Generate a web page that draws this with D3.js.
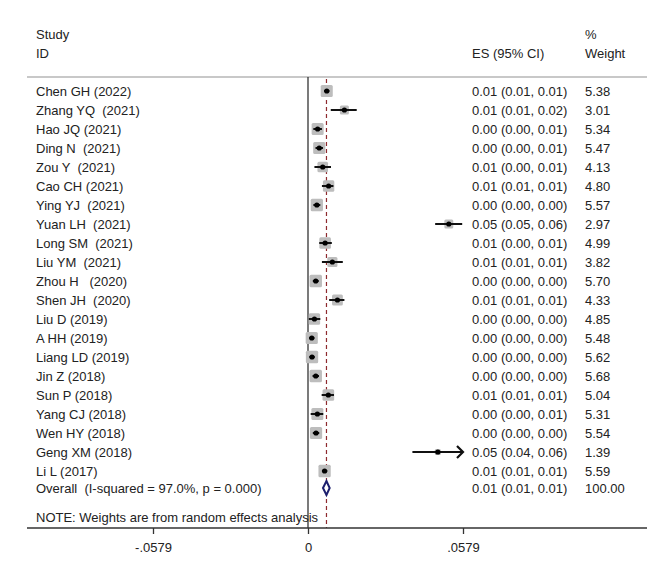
<!DOCTYPE html>
<html>
<head>
<meta charset="utf-8">
<script src="https://cdn.jsdelivr.net/npm/d3@7"></script>
<style>
  body { margin: 0; background: #fff; }
  text { font-family: "Liberation Sans", Arial, sans-serif; font-size: 13px; fill: #222; white-space: pre; }
</style>
</head>
<body>
<div id="chart"></div>
<script>
const width = 669;
const height = 583;

// studies as printed, top to bottom
const studies = [
    'Chen GH (2022)', 'Zhang YQ  (2021)', 'Hao JQ (2021)', 'Ding N  (2021)', 'Zou Y  (2021)',
    'Cao CH (2021)', 'Ying YJ  (2021)', 'Yuan LH  (2021)', 'Long SM  (2021)', 'Liu YM  (2021)',
    'Zhou H   (2020)', 'Shen JH  (2020)', 'Liu D (2019)', 'A HH (2019)', 'Liang LD (2019)',
    'Jin Z (2018)', 'Sun P (2018)', 'Yang CJ (2018)', 'Wen HY (2018)', 'Geng XM (2018)', 'Li L (2017)'
];
const es = [0.0070, 0.0136, 0.0036, 0.0042, 0.0055, 0.0077, 0.0033, 0.0526, 0.0064, 0.0091,
    0.0029, 0.0110, 0.0024, 0.0014, 0.0015, 0.0029, 0.0076, 0.0035, 0.0030, 0.0485, 0.0062];
const lower = [0.0060, 0.0085, 0.0020, 0.0028, 0.0024, 0.0052, 0.0020, 0.0475, 0.0042, 0.0052,
    0.0018, 0.0079, 0.0003, 0.0004, 0.0005, 0.0017, 0.0051, 0.0010, 0.0018, 0.0390, 0.0052];
const upper = [0.0080, 0.0182, 0.0052, 0.0056, 0.0086, 0.0095, 0.0046, 0.0576, 0.0089, 0.0130,
    0.0040, 0.0136, 0.0046, 0.0024, 0.0025, 0.0041, 0.0097, 0.0057, 0.0042, 0.0600, 0.0072];
const weights = [5.38, 3.01, 5.34, 5.47, 4.13, 4.80, 5.57, 2.97, 4.99, 3.82,
    5.70, 4.33, 4.85, 5.48, 5.62, 5.68, 5.04, 5.31, 5.54, 1.39, 5.59];
const esLabels = [
    '0.01 (0.01, 0.01)', '0.01 (0.01, 0.02)', '0.00 (0.00, 0.01)', '0.00 (0.00, 0.01)', '0.01 (0.00, 0.01)',
    '0.01 (0.01, 0.01)', '0.00 (0.00, 0.00)', '0.05 (0.05, 0.06)', '0.01 (0.00, 0.01)', '0.01 (0.01, 0.01)',
    '0.00 (0.00, 0.00)', '0.01 (0.01, 0.01)', '0.00 (0.00, 0.00)', '0.00 (0.00, 0.00)', '0.00 (0.00, 0.00)',
    '0.00 (0.00, 0.00)', '0.01 (0.01, 0.01)', '0.00 (0.00, 0.01)', '0.00 (0.00, 0.00)', '0.05 (0.04, 0.06)',
    '0.01 (0.01, 0.01)'
];

// pooled estimate
const overallLabel = 'Overall  (I-squared = 97.0%, p = 0.000)';
const overall = {es: 0.0069, lo: 0.0056, hi: 0.0081, label: '0.01 (0.01, 0.01)', weight: '100.00'};
const note = 'NOTE: Weights are from random effects analysis';

const tickValues = [-0.0579, 0, 0.0579];
const tickLabels = ['-.0579', '0', '.0579'];

const navy = '#1c1f6e';
const boxGrey = '#bdbdbd';
const refRed = '#8e2a2e';

buildChart();


function buildChart() {

    const svg = d3.select('#chart')
        .append('svg')
        .attr('width', width)
        .attr('height', height);

    const x = d3.scaleLinear()
        .domain([tickValues[0], tickValues[2]])
        .range([153, 463]);

    const y = d3.scaleLinear()
        .domain([0, studies.length])
        .range([91, 490]);

    const side = d3.scaleSqrt()
        .domain([0, 5.7])
        .range([0, 12.4]);

    const top = 77;
    const axisY = 528;
    const colES = 472;
    const colW = 585;

    // header
    svg.append('text').attr('x', 36).attr('y', 34).attr('dy', '0.35em').text('Study');
    svg.append('text').attr('x', 36).attr('y', 53).attr('dy', '0.35em').text('ID');
    svg.append('text').attr('x', colES).attr('y', 53).attr('dy', '0.35em').text('ES (95% CI)');
    svg.append('text').attr('x', colW).attr('y', 34).attr('dy', '0.35em').text('%');
    svg.append('text').attr('x', colW).attr('y', 53).attr('dy', '0.35em').text('Weight');

    svg.append('line')
        .attr('x1', 27).attr('x2', 647)
        .attr('y1', top).attr('y2', top)
        .attr('stroke', '#c8c8c8')
        .attr('stroke-width', 2);

    // no-effect line and pooled line
    svg.append('line')
        .attr('x1', x(0)).attr('x2', x(0))
        .attr('y1', top).attr('y2', axisY)
        .attr('stroke', '#222')
        .attr('stroke-width', 1.2);

    svg.append('line')
        .attr('x1', x(overall.es)).attr('x2', x(overall.es))
        .attr('y1', top + 2).attr('y2', axisY)
        .attr('stroke', refRed)
        .attr('stroke-width', 1.2)
        .attr('stroke-dasharray', '4,3');

    const rows = studies.map((s, i) => ({
        name: s, es: es[i], lo: lower[i], hi: upper[i], w: weights[i], label: esLabels[i], i: i
    }));

    // weight boxes
    svg.selectAll('rect.box')
        .data(rows)
        .enter()
        .append('rect')
        .attr('class', 'box')
        .attr('x', (d) => x(d.es) - side(d.w) / 2)
        .attr('y', (d) => y(d.i) - side(d.w) / 2)
        .attr('width', (d) => side(d.w))
        .attr('height', (d) => side(d.w))
        .attr('rx', 1.5)
        .attr('fill', boxGrey);

    // confidence intervals, clipped at the axis edge
    const xmax = tickValues[2];
    svg.selectAll('line.ci')
        .data(rows)
        .enter()
        .append('line')
        .attr('class', 'ci')
        .attr('x1', (d) => x(d.lo))
        .attr('x2', (d) => x(Math.min(d.hi, xmax)))
        .attr('y1', (d) => y(d.i))
        .attr('y2', (d) => y(d.i))
        .attr('stroke', '#111')
        .attr('stroke-width', 2);

    svg.selectAll('path.arrow')
        .data(rows.filter((d) => d.hi > xmax))
        .enter()
        .append('path')
        .attr('class', 'arrow')
        .attr('d', (d) => {
            const ax = x(xmax), ay = y(d.i);
            return `M${ax - 6},${ay - 6} L${ax},${ay} L${ax - 6},${ay + 6}`;
        })
        .attr('fill', 'none')
        .attr('stroke', '#111')
        .attr('stroke-width', 2.2);

    svg.selectAll('circle.pt')
        .data(rows)
        .enter()
        .append('circle')
        .attr('class', 'pt')
        .attr('cx', (d) => x(d.es))
        .attr('cy', (d) => y(d.i))
        .attr('r', 2.6)
        .attr('fill', '#000');

    // text columns
    svg.selectAll('text.name')
        .data(rows)
        .enter()
        .append('text')
        .attr('class', 'name')
        .attr('x', 36)
        .attr('y', (d) => y(d.i))
        .attr('dy', '0.35em')
        .text((d) => d.name);

    svg.selectAll('text.es')
        .data(rows)
        .enter()
        .append('text')
        .attr('class', 'es')
        .attr('x', colES)
        .attr('y', (d) => y(d.i))
        .attr('dy', '0.35em')
        .text((d) => d.label);

    svg.selectAll('text.wt')
        .data(rows)
        .enter()
        .append('text')
        .attr('class', 'wt')
        .attr('x', colW)
        .attr('y', (d) => y(d.i))
        .attr('dy', '0.35em')
        .text((d) => d.w.toFixed(2));

    // overall row
    const oy = y(studies.length) - 2;
    svg.append('path')
        .attr('d', `M${x(overall.lo)},${oy} L${x(overall.es)},${oy - 7} L${x(overall.hi)},${oy} L${x(overall.es)},${oy + 7} Z`)
        .attr('fill', '#fff')
        .attr('stroke', navy)
        .attr('stroke-width', 2);

    svg.append('text').attr('x', 36).attr('y', oy).attr('dy', '0.35em').text(overallLabel);
    svg.append('text').attr('x', colES).attr('y', oy).attr('dy', '0.35em').text(overall.label);
    svg.append('text').attr('x', colW).attr('y', oy).attr('dy', '0.35em').text(overall.weight);

    svg.append('text').attr('x', 36).attr('y', 517).attr('dy', '0.35em').text(note);

    // x axis
    svg.append('line')
        .attr('x1', 27).attr('x2', 647)
        .attr('y1', axisY).attr('y2', axisY)
        .attr('stroke', '#333')
        .attr('stroke-width', 1.5);

    const axis = svg.append('g')
        .attr('transform', `translate(0, ${axisY})`)
        .call(d3.axisBottom(x)
            .tickValues(tickValues)
            .tickFormat((d, i) => tickLabels[i])
            .tickSize(6)
            .tickPadding(9));

    axis.select('.domain').remove();
    axis.selectAll('.tick line').attr('stroke', '#333').attr('stroke-width', 1.3);
    axis.selectAll('.tick text')
        .style('font-family', '"Liberation Sans", Arial, sans-serif')
        .style('font-size', '13px')
        .attr('fill', '#222');
}
</script>
</body>
</html>
